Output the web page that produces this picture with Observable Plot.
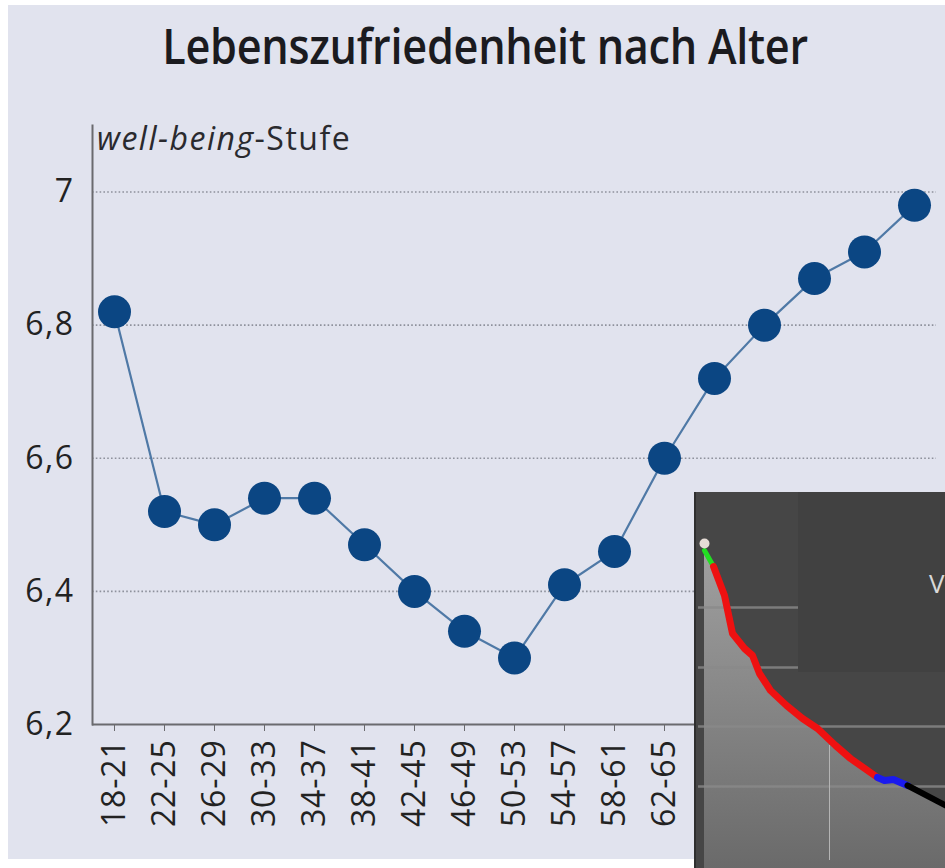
<!DOCTYPE html>
<html>
<head>
<meta charset="utf-8">
<script src="https://cdn.jsdelivr.net/npm/d3@7"></script>
<script src="https://cdn.jsdelivr.net/npm/@observablehq/plot@0.6"></script>
<style>
  html, body { margin: 0; padding: 0; background: #ffffff; }
  #wrap { position: relative; width: 945px; height: 868px; overflow: hidden; font-family: "Open Sans", sans-serif; }
  #panel { position: absolute; left: 8px; top: 5px; right: 0; bottom: 9px; background: #e1e3ee; }
  #title { position: absolute; left: 0; width: 970px; top: 13px; text-align: center; font-size: 48px; font-weight: 600; color: #1b1b1f; transform: scaleX(0.9); transform-origin: 485px 0; white-space: nowrap; letter-spacing: -0.3px; }
  #ylabel { position: absolute; left: 97px; top: 116px; font-size: 32px; letter-spacing: 1.5px; color: #2a2a2e; white-space: nowrap; }
  #main { position: absolute; left: 0; top: 100px; }
  #inset { position: absolute; left: 694px; top: 492px; width: 251px; height: 376px; background: #464646; border-left: 2px solid #2f2f2f; }
  #main svg g[aria-label="y-axis tick label"] text { letter-spacing: 1.5px; }
  #main svg g[aria-label="x-axis tick label"] text { letter-spacing: 0.8px; }
</style>
</head>
<body>
<div id="wrap">
  <div id="panel"></div>
  <div id="title">Lebenszufriedenheit nach Alter</div>
  <div id="ylabel"><i>well-being</i>-Stufe</div>
  <div id="main"></div>
  <div id="inset"></div>
</div>
<script>
// ---- main chart data ----
const ages = ["18-21","22-25","26-29","30-33","34-37","38-41","42-45","46-49","50-53","54-57","58-61","62-65","66-69","70-73","74-77","78-81","82-85"];
const wellbeing = [6.82, 6.52, 6.50, 6.54, 6.54, 6.47, 6.40, 6.34, 6.30, 6.41, 6.46, 6.60, 6.72, 6.80, 6.87, 6.91, 6.98];
const yTicks = [6.2, 6.4, 6.6, 6.8, 7];
const gridTicks = [6.4, 6.6, 6.8, 7];
const yBase = [6.2];

// ---- inset screenshot data (its own pixel-like units) ----
const greenSeg = [[6,58],[15,74]];
const redSeg = [[15,74],[26,103],[34,141],[46,156],[54,163],[61,181],[72,198],[88,213],[104,226],[119,236],[137,253],[152,266],[179,285]];
const blueSeg = [[179,285],[186,288],[195,287],[209,293]];
const blackSeg = [[209,293],[249,314]];
const startDot = [[6,51]];
const guideLines = [[115,0,100],[175,0,100],[234,0,249],[294,0,249]];
const guideVertical = [[131,253,368]];
const subPanel = [[100,249,0,180]];
const insetLetter = ["V"];

const data = ages.map((a, i) => ({age: a, v: wellbeing[i]}));
const fmt = d => String(d).replace(".", ",");

const chart = Plot.plot({
  width: 945,
  height: 768,
  marginTop: 25,
  marginBottom: 144,
  marginLeft: 92,
  marginRight: 9,
  style: {background: "transparent", fontFamily: "Open Sans, sans-serif", fontSize: "32px", color: "#222"},
  x: {type: "point", domain: ages, padding: 0.419, label: null},
  y: {domain: [6.2, 7.1], label: null},
  marks: [
    Plot.ruleY(gridTicks, {stroke: "#8e919c", strokeWidth: 1.6, strokeDasharray: "1.6,2.2"}),
    Plot.frame({anchor: "left", stroke: "#6a6a6e", strokeWidth: 2}),
    Plot.ruleY(yBase, {stroke: "#6a6a6e", strokeWidth: 2}),
    Plot.line(data, {x: "age", y: "v", stroke: "#4f79a6", strokeWidth: 2.2}),
    Plot.dot(data, {x: "age", y: "v", r: 16.5, fill: "#0b4683"}),
    Plot.axisY(yTicks, {tickSize: 0, tickPadding: 18, tickFormat: fmt, fontSize: 32, fill: "#222"}),
    Plot.axisX({tickSize: 7, tickPadding: 8, tickRotate: -90, fontSize: 32, stroke: "#6a6a6e", fill: "#222"})
  ]
});
document.getElementById("main").appendChild(chart);

// ---- inset ----
const pts = a => a.map(([x, y]) => ({x, y}));
const allPts = pts([...greenSeg, ...redSeg.slice(1), ...blueSeg.slice(1), ...blackSeg.slice(1)]);
const inset = Plot.plot({
  width: 251, height: 376,
  margin: 0,
  style: {background: "transparent"},
  x: {domain: [0, 249], range: [2, 251], axis: null},
  y: {domain: [0, 376], range: [0, 376], axis: null},
  marks: [
    Plot.rect(subPanel.map(([x1, x2, y1, y2]) => ({x1, x2, y1, y2})), {x1: "x1", x2: "x2", y1: "y1", y2: "y2", fill: "#414141"}),
    Plot.areaY(allPts, {x: "x", y1: 376, y2: "y", fill: "url(#insetGrad)"}),
    Plot.ruleY(guideLines.map(([y, x1, x2]) => ({y, x1, x2})), {y: "y", x1: "x1", x2: "x2", stroke: "#8a8a8a", strokeWidth: 2.5, strokeOpacity: 0.8}),
    Plot.ruleX(guideVertical.map(([x, y1, y2]) => ({x, y1, y2})), {x: "x", y1: "y1", y2: "y2", stroke: "#b4b4b4", strokeWidth: 1}),
    Plot.line(pts(greenSeg), {x: "x", y: "y", stroke: "#22dd22", strokeWidth: 5, strokeLinecap: "round"}),
    Plot.line(pts(redSeg), {x: "x", y: "y", stroke: "#ee1111", strokeWidth: 7, strokeLinecap: "round"}),
    Plot.line(pts(blueSeg), {x: "x", y: "y", stroke: "#1a1aee", strokeWidth: 7, strokeLinecap: "round"}),
    Plot.line(pts(blackSeg), {x: "x", y: "y", stroke: "#000000", strokeWidth: 6, strokeLinecap: "round"}),
    Plot.dot(pts(startDot), {x: "x", y: "y", r: 5, fill: "#e6ddd6"}),
    Plot.text(insetLetter, {x: 246, y: 92, text: d => d, fill: "#d8d8d8", fontSize: 26, textAnchor: "end", fontFamily: "Open Sans"})
  ]
});
const svgI = d3.select(inset);
const grad = svgI.insert("defs", ":first-child").append("linearGradient")
  .attr("id", "insetGrad").attr("x1", 0).attr("y1", 0).attr("x2", 0).attr("y2", 1);
grad.append("stop").attr("offset", "0%").attr("stop-color", "#a0a0a0");
grad.append("stop").attr("offset", "100%").attr("stop-color", "#6a6a6a");
document.getElementById("inset").appendChild(inset);
</script>
</body>
</html>
